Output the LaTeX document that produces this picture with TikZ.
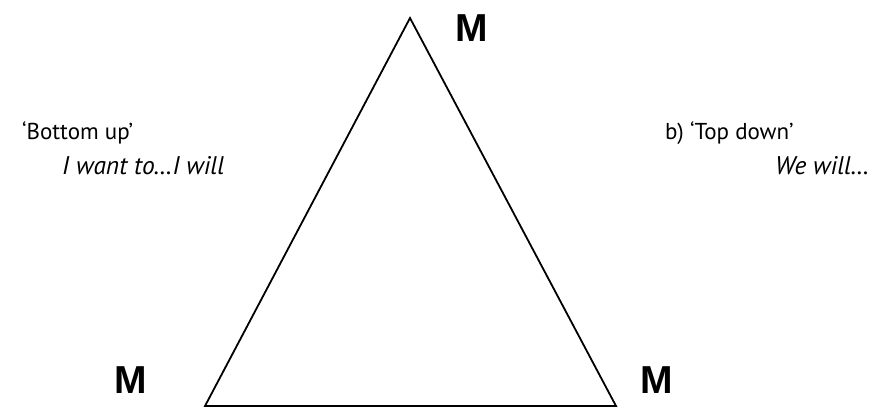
\documentclass[tikz,border=0pt]{standalone}
\usepackage{fontspec}
\setmainfont{PT Sans}
\newfontfamily\corfont{Liberation Sans}
\usepackage{tikz}
\usetikzlibrary{positioning}

\begin{document}
\begin{tikzpicture}[
  x=1pt, y=-1pt,
  edge/.style={line width=1.8pt, line join=miter},
  corner/.style={font=\corfont\fontsize{39}{42}\selectfont\bfseries, inner sep=0pt},
  lbl/.style={font=\fontsize{23}{26}\selectfont, anchor=west, inner sep=0pt},
  say/.style={font=\fontsize{25.5}{28}\selectfont\itshape, anchor=west, inner sep=0pt}
]
\useasboundingbox (0,0) rectangle (890,408);

% ── Triangle ─────────────────────────────────────────────────
\coordinate (top)   at (410,18);
\coordinate (left)  at (205,406);
\coordinate (right) at (616,406);
\draw[edge] (top) -- (left) -- (right) -- cycle;

% ── Corner labels ────────────────────────────────────────────
\node[corner] (mtop)   at (472,28)  {M};
\node[corner] (mleft)  at (131,380) {M};
\node[corner] (mright) at (657,380) {M};

% ── Side texts ───────────────────────────────────────────────
\node[lbl] (bottomup) at (22,133)  {‘Bottom up’};
\node[say] (iwant)    at (62,166)  {I want to…I will};
\node[lbl] (topdown)  at (665,133) {b) ‘Top down’};
\node[say] (wewill)   at (775,166) {We will…};
\end{tikzpicture}
\end{document}
